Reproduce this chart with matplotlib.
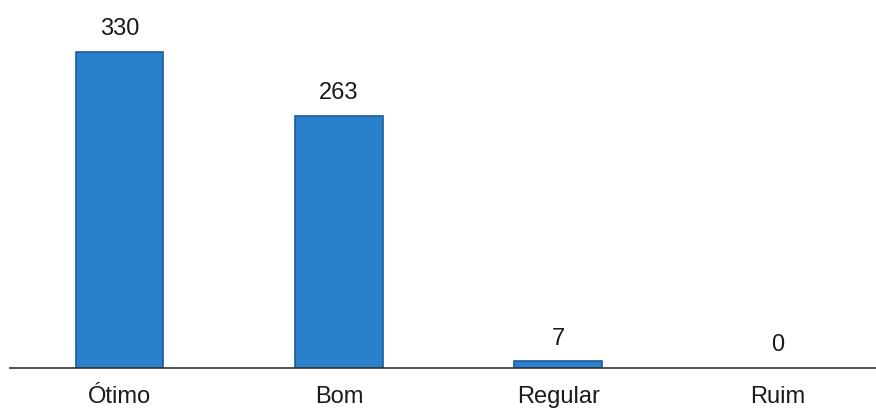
import matplotlib.pyplot as plt

categorias = ['Ótimo', 'Bom', 'Regular', 'Ruim']
valores = [330, 263, 7, 0]

plt.rcParams['font.family'] = ['Liberation Sans', 'DejaVu Sans']

fig = plt.figure(figsize=(8.76, 4.14), dpi=100)
ax = fig.add_axes([10 / 876, 45 / 414, 866 / 876, 369 / 414])

x = range(len(categorias))
barras = ax.bar(x, valores, width=0.40, color='#2b80cc', edgecolor='#1b5d9c', linewidth=1.2)
for b, v in zip(barras, valores):
    if v == 0:
        b.set_linewidth(0)

for xi, v in zip(x, valores):
    ax.annotate(str(v), (xi, v), xytext=(0, 9), textcoords='offset points',
                ha='center', va='bottom', fontsize=17, color='#1a1a1a')

ax.set_xlim(-0.5, 3.45)
ax.set_ylim(0, 385)
ax.set_xticks(list(x))
ax.set_xticklabels(categorias, fontsize=17, color='#1a1a1a')
ax.tick_params(axis='x', length=0, pad=12)
ax.set_yticks([])
for s in ['top', 'right', 'left']:
    ax.spines[s].set_visible(False)
ax.spines['bottom'].set_color('#333333')
ax.spines['bottom'].set_linewidth(1.2)

fig.savefig('out.png', dpi=100)
